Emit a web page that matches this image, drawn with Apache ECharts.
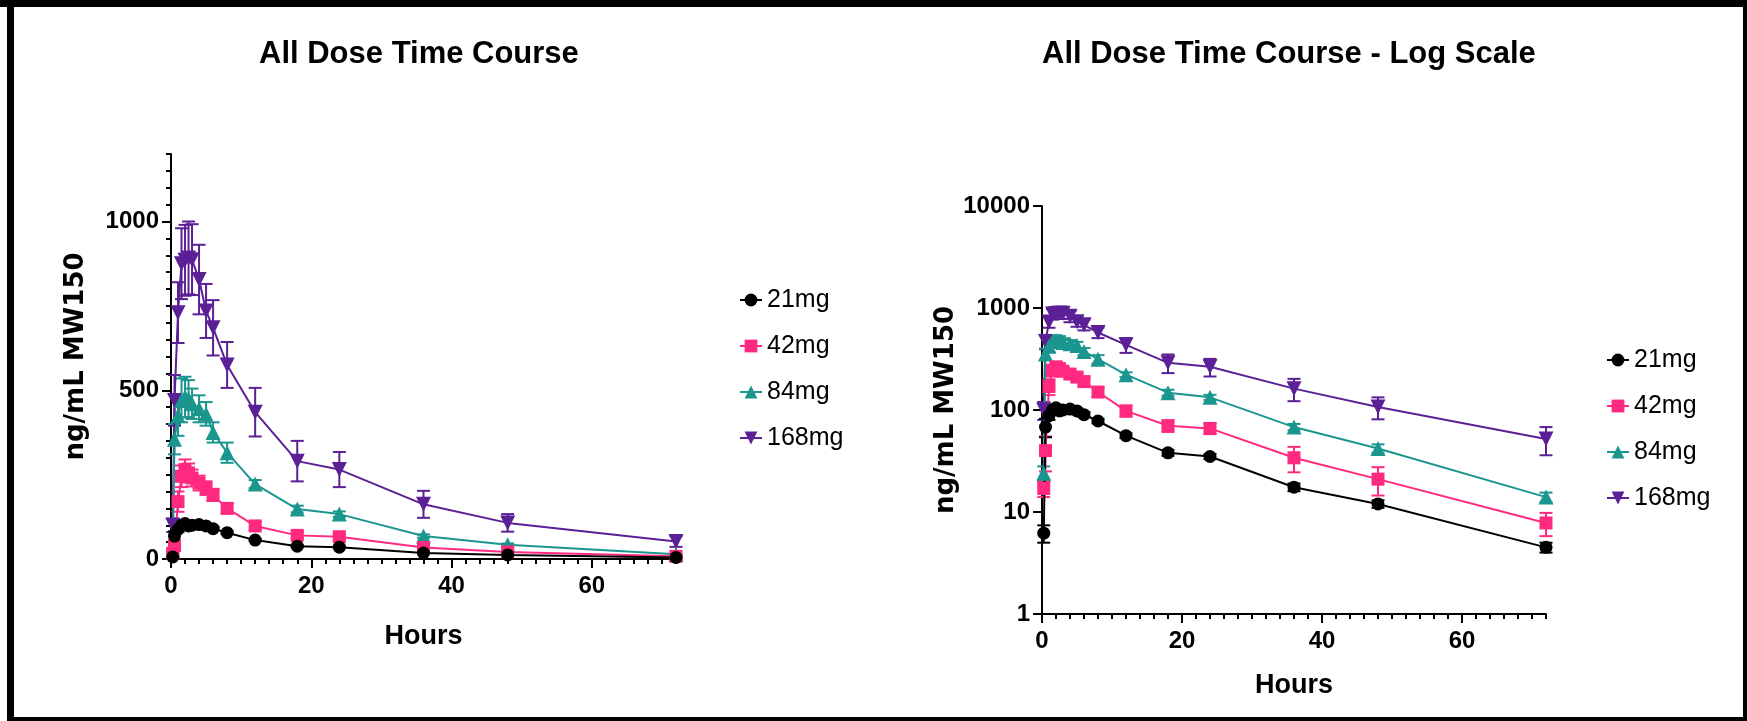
<!DOCTYPE html>
<html>
<head>
<meta charset="utf-8">
<script src="https://cdn.jsdelivr.net/npm/echarts@6/dist/echarts.min.js"></script>
<style>
html,body{margin:0;padding:0;background:#fff;}
#chart{width:1747px;height:721px;}
</style>
</head>
<body>
<div id="chart"></div>
<script>
// ---- data ----
const hours = [0.25, 0.5, 1, 1.5, 2, 2.5, 3, 4, 5, 6, 8, 12, 18, 24, 36, 48, 72];
const doseNames = ['21mg', '42mg', '84mg', '168mg'];
const mean21  = [6.2, 68, 88, 100, 105, 98, 100, 102, 98, 90, 78, 56, 38, 35, 17.5, 12, 4.5];
const sd21    = [1.2, 14, 8, 6, 6, 6, 6, 6, 5, 5, 4, 3, 2.5, 2, 1.5, 1, 0.5];
const mean42  = [17, 40, 170, 245, 265, 255, 240, 225, 210, 190, 150, 98, 70, 66, 34, 21, 7.8];
const sd42    = [3, 15, 30, 32, 30, 28, 25, 22, 20, 18, 15, 12, 9, 8, 9.5, 6.5, 2];
const mean84  = [24, 355, 425, 470, 480, 475, 460, 445, 430, 375, 315, 222, 148, 133, 68, 42, 14];
const sd84    = [4, 45, 60, 65, 60, 55, 45, 40, 35, 30, 30, 12, 10, 8, 5, 4, 1.5];
const mean168 = [100, 470, 730, 875, 885, 892, 887, 828, 735, 685, 575, 435, 290, 265, 162, 107, 52];
const sd168   = [20, 75, 90, 105, 105, 108, 105, 103, 80, 82, 68, 72, 60, 52, 40, 26, 16];

const xTickLabels = [0, 20, 40, 60];
const yTickLabelsLinear = [0, 500, 1000];
const yTickLabelsLog = [1, 10, 100, 1000, 10000];
const titles = ['All Dose Time Course', 'All Dose Time Course - Log Scale'];
const yAxisTitle = 'ng/mL MW150';
const xAxisTitle = 'Hours';

// ---- styling ----
const colors = ['#000000', '#FF2A7F', '#1B968F', '#5B1F96'];
const symbols = ['circle', 'rect', 'triangle', 'triangle'];
const symbolRot = [0, 0, 0, 180];
const symbolSizes = [13, 13, 15, 15];
const means = [mean21, mean42, mean84, mean168];
const sds = [sd21, sd42, sd84, sd168];
const FONT = '"Liberation Sans", Arial, sans-serif';

const xMinor = []; for (let v = 0; v <= 72; v += 2) xMinor.push(v);
const yMinor = []; for (let v = 0; v <= 1200; v += 50) yMinor.push(v);

const plain = function (v) { return String(v); };
const tickLabelStyle = {fontFamily: FONT, fontWeight: 'bold', fontSize: 24, color: '#000', formatter: plain};
const axisLineStyle = {lineStyle: {color: '#000', width: 2}};

function mainX(grid, gap) {
  return {
    gridIndex: grid, type: 'value', min: 0, max: 72, position: 'bottom',
    axisLine: axisLineStyle,
    axisTick: {show: true, length: 9, lineStyle: {width: 2, color: '#000'}, customValues: xTickLabels},
    axisLabel: Object.assign({customValues: xTickLabels, margin: 15}, tickLabelStyle),
    splitLine: {show: false},
    name: xAxisTitle, nameLocation: 'middle', nameGap: gap,
    nameTextStyle: {fontFamily: FONT, fontWeight: 'bold', fontSize: 27, color: '#000'}
  };
}
function minorX(grid) {
  return {
    gridIndex: grid, type: 'value', min: 0, max: 72, position: 'bottom',
    axisLine: {show: false},
    axisTick: {show: true, length: 5, lineStyle: {width: 2, color: '#000'}, customValues: xMinor},
    axisLabel: {show: false}, splitLine: {show: false}
  };
}
const yNameStyle = {fontFamily: '"DejaVu Sans", sans-serif', fontWeight: 'bold', fontSize: 26, color: '#000'};

function errRender(color) {
  return function (params, api) {
    const x = api.value(0), m = api.value(1), e = api.value(2);
    const top = api.coord([x, m + e]);
    const bot = api.coord([x, Math.max(m - e, 0.001)]);
    const hw = 6.5;
    const st = {stroke: color, lineWidth: 2, fill: null};
    return {
      type: 'group',
      children: [
        {type: 'line', shape: {x1: top[0], y1: top[1], x2: bot[0], y2: bot[1]}, style: st},
        {type: 'line', shape: {x1: top[0] - hw, y1: top[1], x2: top[0] + hw, y2: top[1]}, style: st},
        {type: 'line', shape: {x1: bot[0] - hw, y1: bot[1], x2: bot[0] + hw, y2: bot[1]}, style: st}
      ]
    };
  };
}

const series = [];
[0, 1].forEach(function (chart) {
  const xi = chart === 0 ? 0 : 2;
  const yi = chart === 0 ? 0 : 2;
  [3, 2, 1, 0].forEach(function (k) {
    const errData = hours.map(function (t, i) { return [t, means[k][i], sds[k][i]]; });
    series.push({
      type: 'custom', name: doseNames[k] + ' SD', xAxisIndex: xi, yAxisIndex: yi,
      data: errData, encode: {x: 0, y: 1}, renderItem: errRender(colors[k]), z: 2, silent: true
    });
  });
  [3, 2, 1, 0].forEach(function (k) {
    series.push({
      type: 'line', name: doseNames[k], xAxisIndex: xi, yAxisIndex: yi,
      data: hours.map(function (t, i) { return [t, means[k][i]]; }),
      symbol: symbols[k], symbolRotate: symbolRot[k], symbolSize: symbolSizes[k],
      showAllSymbol: true,
      lineStyle: {color: colors[k], width: 2},
      itemStyle: {color: colors[k], borderWidth: 0},
      z: 3
    });
  });
});

function legend(left, top) {
  return {
    data: doseNames, orient: 'vertical', left: left, top: top, padding: 0,
    itemWidth: 22, itemHeight: 16, itemGap: 20,
    textStyle: {fontFamily: FONT, fontSize: 25, color: '#000', lineHeight: 26},
    selectedMode: false
  };
}

const option = {
  animation: false,
  backgroundColor: '#fff',
  title: [
    {text: titles[0], left: 259, top: 39, padding: 0,
     textStyle: {fontFamily: FONT, fontWeight: 'bold', fontSize: 31, color: '#000'}},
    {text: titles[1], left: 1042, top: 39, padding: 0,
     textStyle: {fontFamily: FONT, fontWeight: 'bold', fontSize: 31, color: '#000'}}
  ],
  legend: [legend(739, 287), legend(1606, 347)],
  grid: [
    {left: 171, top: 154, width: 505, height: 405},
    {left: 1042, top: 206, width: 504, height: 408}
  ],
  xAxis: [mainX(0, 64), minorX(0), mainX(1, 58), minorX(1)],
  yAxis: [
    {gridIndex: 0, type: 'value', min: 0, max: 1200, position: 'left',
     axisLine: Object.assign({show: true}, axisLineStyle),
     axisTick: {show: true, length: 9, lineStyle: {width: 2, color: '#000'}, customValues: yTickLabelsLinear},
     axisLabel: Object.assign({customValues: yTickLabelsLinear, margin: 12}, tickLabelStyle),
     splitLine: {show: false},
     name: yAxisTitle, nameLocation: 'middle', nameRotate: 90, nameGap: 82, nameTextStyle: yNameStyle},
    {gridIndex: 0, type: 'value', min: 0, max: 1200, position: 'left',
     axisLine: {show: false},
     axisTick: {show: true, length: 5, lineStyle: {width: 2, color: '#000'}, customValues: yMinor},
     axisLabel: {show: false}, splitLine: {show: false}},
    {gridIndex: 1, type: 'log', logBase: 10, min: 1, max: 10000, position: 'left',
     axisLine: Object.assign({show: true}, axisLineStyle),
     axisTick: {show: true, length: 9, lineStyle: {width: 2, color: '#000'}, customValues: yTickLabelsLog},
     axisLabel: Object.assign({customValues: yTickLabelsLog, margin: 12}, tickLabelStyle),
     minorTick: {show: false},
     splitLine: {show: false},
     name: yAxisTitle, nameLocation: 'middle', nameRotate: 90, nameGap: 82, nameTextStyle: yNameStyle}
  ],
  graphic: [
    {type: 'rect', shape: {x: 0, y: 0, width: 1747, height: 7}, style: {fill: '#000'}},
    {type: 'rect', shape: {x: 7, y: 0, width: 7, height: 721}, style: {fill: '#000'}},
    {type: 'rect', shape: {x: 1743, y: 0, width: 4, height: 721}, style: {fill: '#000'}},
    {type: 'rect', shape: {x: 7, y: 717, width: 1740, height: 4}, style: {fill: '#000'}}
  ],
  series: series
};

const chart = echarts.init(document.getElementById('chart'), null, {renderer: 'canvas'});
chart.setOption(option);
</script>
</body>
</html>
